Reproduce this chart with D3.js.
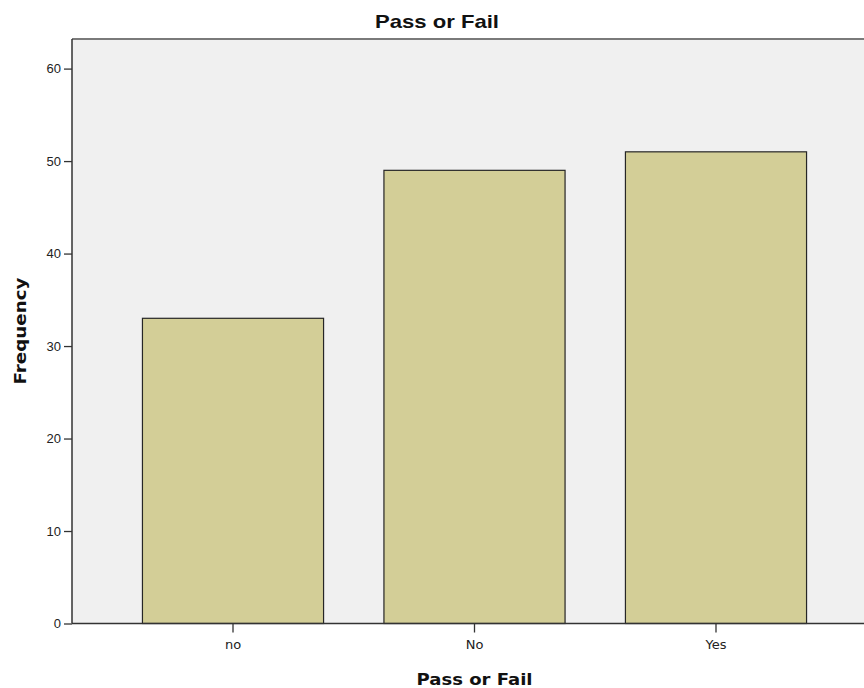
<!DOCTYPE html>
<html><head><meta charset="utf-8">
<script src="https://cdn.jsdelivr.net/npm/d3@7"></script>
<style>body{margin:0;background:#fff}svg{display:block}</style>
</head><body><svg id="c" width="864" height="688"></svg>
<script>
const categories = ["no", "No", "Yes"];
const frequencies = [33, 49, 51];
const yTicks = [0, 10, 20, 30, 40, 50, 60];
const chartTitle = "Pass or Fail";
const xTitle = "Pass or Fail";
const yTitle = "Frequency";

const svg = d3.select("#c");
const L = 72, R = 877, T = 39, B = 623.5;
const x = d3.scaleBand().domain(categories).range([L, R]).paddingInner(0.25).paddingOuter(0.2917);
const y = d3.scaleLinear().domain([0, 63.2]).range([B, T]);

svg.append("rect").attr("x", L).attr("y", T).attr("width", R - L).attr("height", B - T).attr("fill", "#f0f0f0");
svg.append("line").attr("x1", L).attr("x2", 864).attr("y1", T).attr("y2", T).attr("stroke", "#7a7a7a").attr("stroke-width", 2);

svg.selectAll("rect.bar").data(frequencies).join("rect").attr("class", "bar")
  .attr("x", (d, i) => x(categories[i])).attr("width", x.bandwidth())
  .attr("y", d => y(d)).attr("height", d => B - y(d))
  .attr("fill", "#d3ce97").attr("stroke", "#262626").attr("stroke-width", 1.2);

const yAxis = svg.append("g").attr("transform", `translate(${L},0)`)
  .call(d3.axisLeft(y).tickValues(yTicks).tickSize(8).tickPadding(3).tickSizeOuter(0));
yAxis.select(".domain").attr("stroke", "#333").attr("stroke-width", 1.5).attr("d", `M0,${T}V${B}`);
yAxis.selectAll(".tick line").attr("stroke", "#333").attr("stroke-width", 1.3);
yAxis.selectAll("text").attr("font-family", "Liberation Sans, Arial, sans-serif").attr("font-size", 13).attr("fill", "#222");

const xAxis = svg.append("g").attr("transform", `translate(0,${B})`)
  .call(d3.axisBottom(x).tickSize(9).tickPadding(7).tickSizeOuter(0));
xAxis.select(".domain").attr("stroke", "#333").attr("stroke-width", 1.5).attr("d", `M${L},0H864`);
xAxis.selectAll(".tick line").attr("stroke", "#333").attr("stroke-width", 1.3);
xAxis.selectAll("text").attr("font-family", "DejaVu Sans, sans-serif").attr("font-size", 13).attr("fill", "#222");

svg.append("text").attr("x", 437).attr("y", 28).attr("text-anchor", "middle")
  .attr("font-family", "Liberation Sans, Arial, sans-serif").attr("font-weight", "bold").attr("font-size", 19)
  .attr("textLength", 124).attr("lengthAdjust", "spacingAndGlyphs").attr("fill", "#111").text(chartTitle);
svg.append("text").attr("x", (L + R) / 2).attr("y", 685).attr("text-anchor", "middle")
  .attr("font-family", "DejaVu Sans, sans-serif").attr("font-weight", "bold").attr("font-size", 16)
  .attr("textLength", 116).attr("lengthAdjust", "spacingAndGlyphs").attr("fill", "#111").text(xTitle);
svg.append("text").attr("transform", "translate(26,331) rotate(-90)").attr("text-anchor", "middle")
  .attr("font-family", "DejaVu Sans, sans-serif").attr("font-weight", "bold").attr("font-size", 16)
  .attr("textLength", 107).attr("lengthAdjust", "spacingAndGlyphs").attr("fill", "#111").text(yTitle);
</script></body></html>
